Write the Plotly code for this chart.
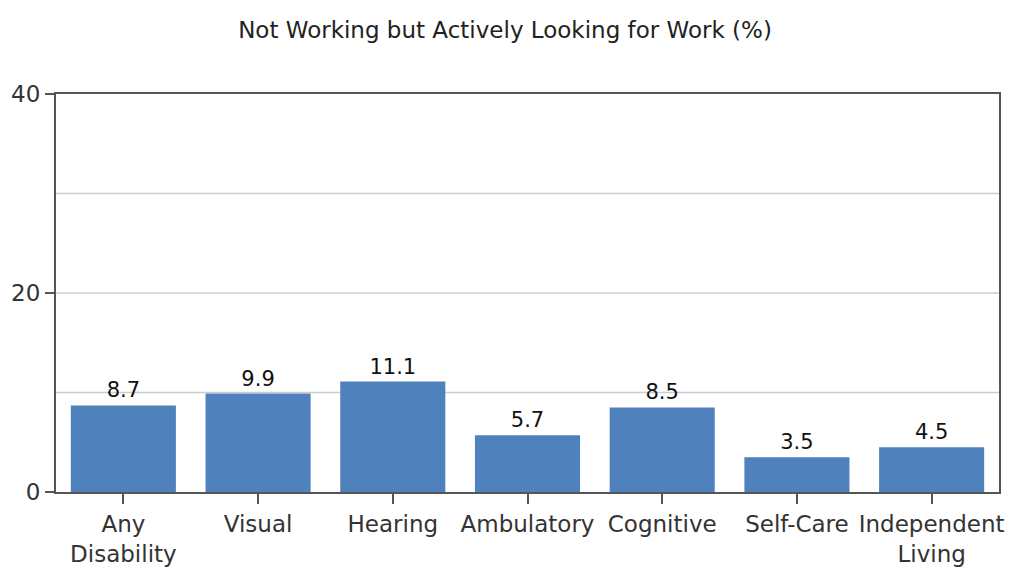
import plotly.graph_objects as go

# chart data
categories = ["Any<br>Disability", "Visual", "Hearing", "Ambulatory",
              "Cognitive", "Self-Care", "Independent<br>Living"]
percent_values = [8.7, 9.9, 11.1, 5.7, 8.5, 3.5, 4.5]
value_labels = ["8.7", "9.9", "11.1", "5.7", "8.5", "3.5", "4.5"]
y_ticks = [0, 20, 40]
grid_lines = [10, 20, 30]

font_family = "DejaVu Sans, Verdana, sans-serif"

fig = go.Figure()
fig.add_trace(go.Bar(
    x=categories,
    y=percent_values,
    text=value_labels,
    textposition="outside",
    textfont=dict(color="#111111", size=21, family=font_family),
    cliponaxis=False,
    marker=dict(color="#4F81BD", line=dict(width=0)),
    width=0.78,
    hoverinfo="skip",
))

fig.update_layout(
    width=1010,
    height=575,
    margin=dict(l=56, r=6, t=94, b=83),
    paper_bgcolor="white",
    plot_bgcolor="white",
    font=dict(family=font_family, size=23, color="#333333"),
    title=dict(
        text="Not Working but Actively Looking for Work (%)",
        x=0.5, xanchor="center",
        y=1 - 30 / 575, yanchor="middle",
        font=dict(size=23, color="#222222", family=font_family),
    ),
    showlegend=False,
    bargap=0.22,
)

fig.update_xaxes(
    showline=True, linecolor="#555555", linewidth=2, mirror=True,
    ticks="outside", ticklen=10, tickcolor="#555555", tickwidth=2,
    tickfont=dict(size=23, color="#333333"),
    showgrid=False,
)
fig.update_yaxes(
    range=[0, 40],
    tickvals=y_ticks,
    showline=True, linecolor="#555555", linewidth=2, mirror=True,
    ticks="outside", ticklen=9, tickcolor="#555555", tickwidth=2,
    tickfont=dict(size=23, color="#333333"),
    showgrid=False,
    zeroline=False,
)

# light horizontal gridlines at every 10
for gy in grid_lines:
    fig.add_hline(y=gy, line=dict(color="#CCCCCC", width=1.5), layer="below")

# drop the default body margin so the figure sits at the page origin
fig.write_html(
    "out.html",
    config={"displayModeBar": False},
    post_script="document.body.style.margin='0';",
)
